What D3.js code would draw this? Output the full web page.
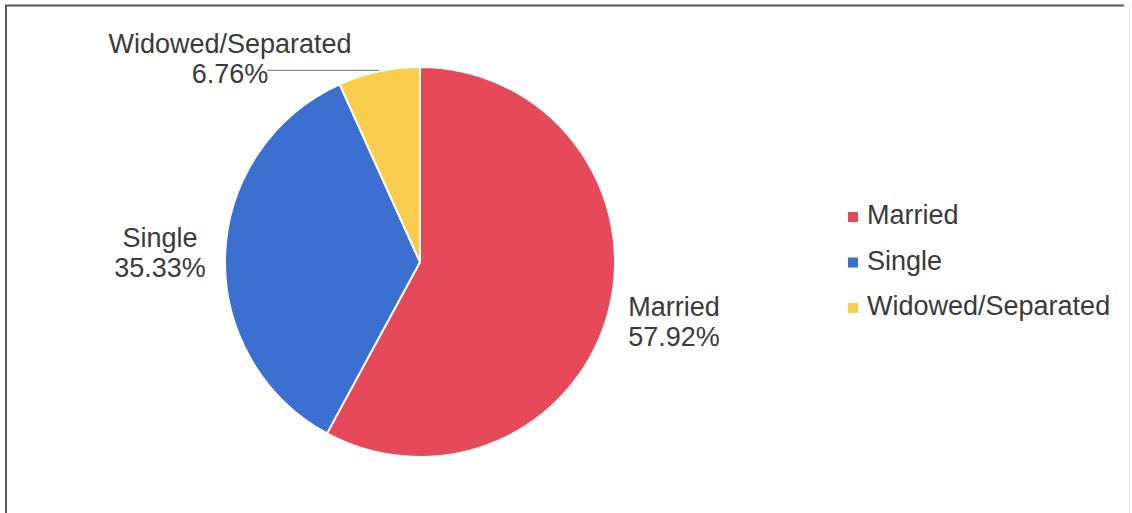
<!DOCTYPE html>
<html>
<head>
<meta charset="utf-8">
<script src="https://cdn.jsdelivr.net/npm/d3@7"></script>
<style>
  html, body { margin: 0; padding: 0; background: #fff; }
  svg { display: block; }
  text { font-family: "Liberation Sans", Arial, sans-serif; fill: #3a3a3a; }
</style>
</head>
<body>
<svg id="chart" width="1132" height="513"></svg>
<script>
// Marital status breakdown
const categories = ["Married", "Single", "Widowed/Separated"];
const shares = [57.92, 35.33, 6.76];
const shareLabels = ["57.92%", "35.33%", "6.76%"];
const colors = ["#e6495a", "#3b6fd0", "#fbcd4c"];

const svg = d3.select("#chart");

// frame: dark top and left edges, faint right edge
svg.append("line").attr("x1", 5).attr("y1", 5.5).attr("x2", 1124).attr("y2", 5.5)
  .attr("stroke", "#555").attr("stroke-width", 2);
svg.append("line").attr("x1", 6).attr("y1", 5).attr("x2", 6).attr("y2", 513)
  .attr("stroke", "#555").attr("stroke-width", 2);
svg.append("line").attr("x1", 1129.5).attr("y1", 5).attr("x2", 1129.5).attr("y2", 513)
  .attr("stroke", "#f2f0e6").attr("stroke-width", 1);

const cx = 420, cy = 262, R = 195;
const data = categories.map((c, i) => ({ name: c, value: shares[i], label: shareLabels[i], color: colors[i] }));

const pie = d3.pie().sort(null).value(d => d.value);
const arcs = pie(data);
const arc = d3.arc().innerRadius(0).outerRadius(R);

const g = svg.append("g").attr("transform", `translate(${cx},${cy})`);
g.selectAll("path.slice")
  .data(arcs)
  .join("path")
  .attr("class", "slice")
  .attr("d", arc)
  .attr("fill", d => d.data.color)
  .attr("stroke", "#fff")
  .attr("stroke-width", 2)
  .attr("stroke-linejoin", "round");

// data labels
const fs = 27, lh = 30;
const labelPos = {
  "Married":           { x: 674, y: 316 },
  "Single":            { x: 160, y: 247 },
  "Widowed/Separated": { x: 230, y: 53 }
};

arcs.forEach(a => {
  const p = labelPos[a.data.name];
  const t = svg.append("text")
    .attr("x", p.x).attr("y", p.y)
    .attr("text-anchor", "middle")
    .style("font-size", fs + "px");
  t.append("tspan").attr("x", p.x).attr("dy", 0).text(a.data.name);
  t.append("tspan").attr("x", p.x).attr("dy", lh).text(a.data.label);
});

// leader line for the small slice
const small = arcs[2];
const mid = (small.startAngle + small.endAngle) / 2;
const edge = [cx + Math.sin(mid) * R, cy - Math.cos(mid) * R];
svg.append("line")
  .attr("x1", 267).attr("y1", edge[1] - 1)
  .attr("x2", edge[0]).attr("y2", edge[1] - 1)
  .attr("stroke", "#8a8a8a").attr("stroke-width", 1.3);

// legend
const legend = svg.append("g");
const lx = 848, ly0 = 224, lstep = 45.5;
data.forEach((d, i) => {
  const y = ly0 + i * lstep;
  legend.append("rect")
    .attr("x", lx).attr("y", y - 12)
    .attr("width", 10).attr("height", 10)
    .attr("fill", d.color);
  legend.append("text")
    .attr("x", lx + 19).attr("y", y)
    .style("font-size", fs + "px")
    .text(d.name);
});
</script>
</body>
</html>
